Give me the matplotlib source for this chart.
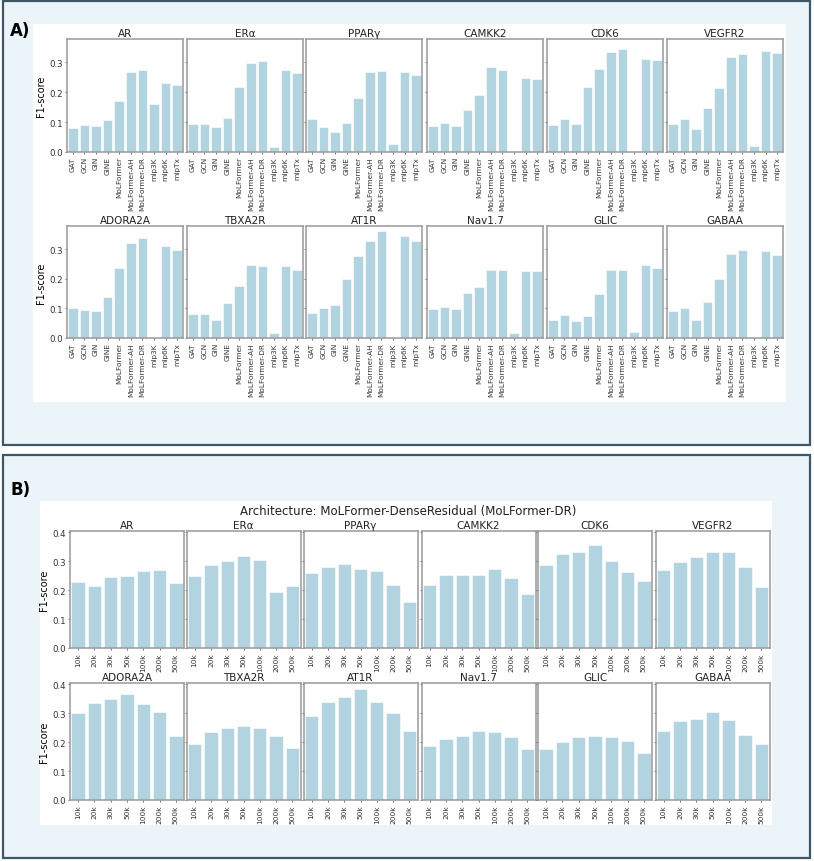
import numpy as np
import matplotlib
matplotlib.use('Agg')
import matplotlib.pyplot as plt
from matplotlib.patches import Rectangle

# targets shown in both panels
targets = ['AR', 'ERα', 'PPARγ', 'CAMKK2', 'CDK6', 'VEGFR2',
           'ADORA2A', 'TBXA2R', 'AT1R', 'Nav1.7', 'GLIC', 'GABAA']

# panel A: F1-score per architecture
models = ['GAT', 'GCN', 'GIN', 'GINE', 'MoLFormer', 'MoLFormer-AH',
          'MoLFormer-DR', 'mlp3K', 'mlp6K', 'mlpTx']
f1_AR = [0.081, 0.091, 0.087, 0.108, 0.169, 0.268, 0.273, 0.161, 0.232, 0.225]
f1_ERa = [0.093, 0.095, 0.082, 0.115, 0.217, 0.299, 0.305, 0.018, 0.275, 0.265]
f1_PPARg = [0.109, 0.085, 0.068, 0.097, 0.181, 0.268, 0.271, 0.026, 0.268, 0.258]
f1_CAMKK2 = [0.086, 0.096, 0.087, 0.142, 0.192, 0.284, 0.273, 0.0, 0.249, 0.245]
f1_CDK6 = [0.090, 0.111, 0.095, 0.217, 0.279, 0.336, 0.346, 0.0, 0.310, 0.308]
f1_VEGFR2 = [0.093, 0.111, 0.076, 0.147, 0.215, 0.318, 0.329, 0.020, 0.339, 0.330]
f1_ADORA2A = [0.101, 0.096, 0.090, 0.140, 0.237, 0.321, 0.337, 0.0, 0.309, 0.296]
f1_TBXA2R = [0.081, 0.080, 0.061, 0.118, 0.175, 0.245, 0.242, 0.016, 0.244, 0.231]
f1_AT1R = [0.084, 0.102, 0.113, 0.198, 0.278, 0.329, 0.360, 0.0, 0.343, 0.329]
f1_Nav17 = [0.099, 0.104, 0.098, 0.152, 0.172, 0.230, 0.231, 0.016, 0.227, 0.225]
f1_GLIC = [0.062, 0.078, 0.056, 0.074, 0.147, 0.229, 0.228, 0.019, 0.248, 0.236]
f1_GABAA = [0.090, 0.101, 0.062, 0.121, 0.198, 0.282, 0.296, 0.0, 0.294, 0.281]
arch_scores = [f1_AR, f1_ERa, f1_PPARg, f1_CAMKK2, f1_CDK6, f1_VEGFR2,
               f1_ADORA2A, f1_TBXA2R, f1_AT1R, f1_Nav17, f1_GLIC, f1_GABAA]

# panel B: MoLFormer-DR F1-score per training set size
sizes = ['10k', '20k', '30k', '50k', '100k', '200k', '500k']
dr_AR = [0.227, 0.215, 0.244, 0.250, 0.266, 0.269, 0.224]
dr_ERa = [0.250, 0.286, 0.299, 0.317, 0.305, 0.195, 0.215]
dr_PPARg = [0.258, 0.281, 0.290, 0.274, 0.267, 0.219, 0.158]
dr_CAMKK2 = [0.217, 0.253, 0.251, 0.253, 0.273, 0.242, 0.186]
dr_CDK6 = [0.285, 0.323, 0.331, 0.356, 0.299, 0.262, 0.232]
dr_VEGFR2 = [0.268, 0.297, 0.314, 0.331, 0.332, 0.281, 0.212]
dr_ADORA2A = [0.299, 0.336, 0.348, 0.365, 0.333, 0.305, 0.222]
dr_TBXA2R = [0.193, 0.235, 0.249, 0.254, 0.249, 0.222, 0.181]
dr_AT1R = [0.290, 0.338, 0.355, 0.384, 0.338, 0.302, 0.237]
dr_Nav17 = [0.188, 0.209, 0.220, 0.238, 0.234, 0.216, 0.176]
dr_GLIC = [0.175, 0.201, 0.218, 0.222, 0.218, 0.203, 0.164]
dr_GABAA = [0.238, 0.273, 0.281, 0.305, 0.277, 0.224, 0.192]
size_scores = [dr_AR, dr_ERa, dr_PPARg, dr_CAMKK2, dr_CDK6, dr_VEGFR2,
               dr_ADORA2A, dr_TBXA2R, dr_AT1R, dr_Nav17, dr_GLIC, dr_GABAA]

W, H = 814, 862
fig = plt.figure(figsize=(W / 100, H / 100), dpi=100)


def frac(x0, y0, x1, y1):
    # pixel box (top-left origin) -> figure fraction rect
    return [x0 / W, 1 - y1 / H, (x1 - x0) / W, (y1 - y0) / H]


def panel_box(x0, y0, x1, y1, color, edge=None, lw=0):
    r = frac(x0, y0, x1, y1)
    fig.patches.append(Rectangle((r[0], r[1]), r[2], r[3], transform=fig.transFigure,
                                 facecolor=color, edgecolor=edge or color, linewidth=lw,
                                 zorder=-10))


# outer framed boxes and white plot areas
panel_box(3, 2, 810, 446, '#ebf4f9', '#3f5866', 1.6)
panel_box(3, 456, 810, 859, '#ebf4f9', '#3f5866', 1.6)
panel_box(33, 25, 786, 403, 'white')
panel_box(40, 502, 772, 826, 'white')

fig.text(10 / W, 1 - 31 / H, 'A)', fontsize=12, fontweight='bold', va='center')
fig.text(10 / W, 1 - 490 / H, 'B)', fontsize=12, fontweight='bold', va='center')
fig.text(408 / W, 1 - 511 / H, 'Architecture: MoLFormer-DenseResidual (MoLFormer-DR)',
         fontsize=8.5, ha='center', va='center', color='#222222')

bar_color = '#b1d4e0'
spine_color = '#999999'


def draw(ax, labels, values, ymax, yticks, title, first_col):
    x = np.arange(len(labels))
    ax.bar(x, values, width=0.82, color=bar_color, edgecolor='white', linewidth=0.4)
    ax.set_xlim(-0.5, len(labels) - 0.5)
    ax.set_ylim(0, ymax)
    ax.set_xticks(x)
    ax.set_xticklabels(labels, rotation=90, fontsize=5.3)
    ax.set_yticks(yticks)
    ax.set_title(title, fontsize=7.5, pad=2, color='#222222')
    for s in ax.spines.values():
        s.set_color(spine_color)
        s.set_linewidth(1.1)
    ax.tick_params(axis='both', length=1.5, width=0.5, pad=1.5, colors='#333333',
                   labelsize=5.3)
    if first_col:
        ax.set_yticklabels([f'{t:.1f}' for t in yticks], fontsize=6.2)
        ax.set_ylabel('F1-score', fontsize=7, labelpad=2)
    else:
        ax.set_yticklabels([])


# panel A grid
a_left = [67, 187, 306, 427, 547, 667]
a_rows = [(40, 153), (227, 339)]
for i, (t, vals) in enumerate(zip(targets, arch_scores)):
    r, c = divmod(i, 6)
    ax = fig.add_axes(frac(a_left[c], a_rows[r][0], a_left[c] + 116, a_rows[r][1]))
    draw(ax, models, vals, 0.378, [0.0, 0.1, 0.2, 0.3], t, c == 0)

# panel B grid
b_left = [70, 186.5, 303.5, 421.5, 538, 655.5]
b_rows = [(532, 649), (684, 801)]
for i, (t, vals) in enumerate(zip(targets, size_scores)):
    r, c = divmod(i, 6)
    ax = fig.add_axes(frac(b_left[c], b_rows[r][0], b_left[c] + 114, b_rows[r][1]))
    draw(ax, sizes, vals, 0.404, [0.0, 0.1, 0.2, 0.3, 0.4], t, c == 0)

fig.savefig('out.png', dpi=100)
